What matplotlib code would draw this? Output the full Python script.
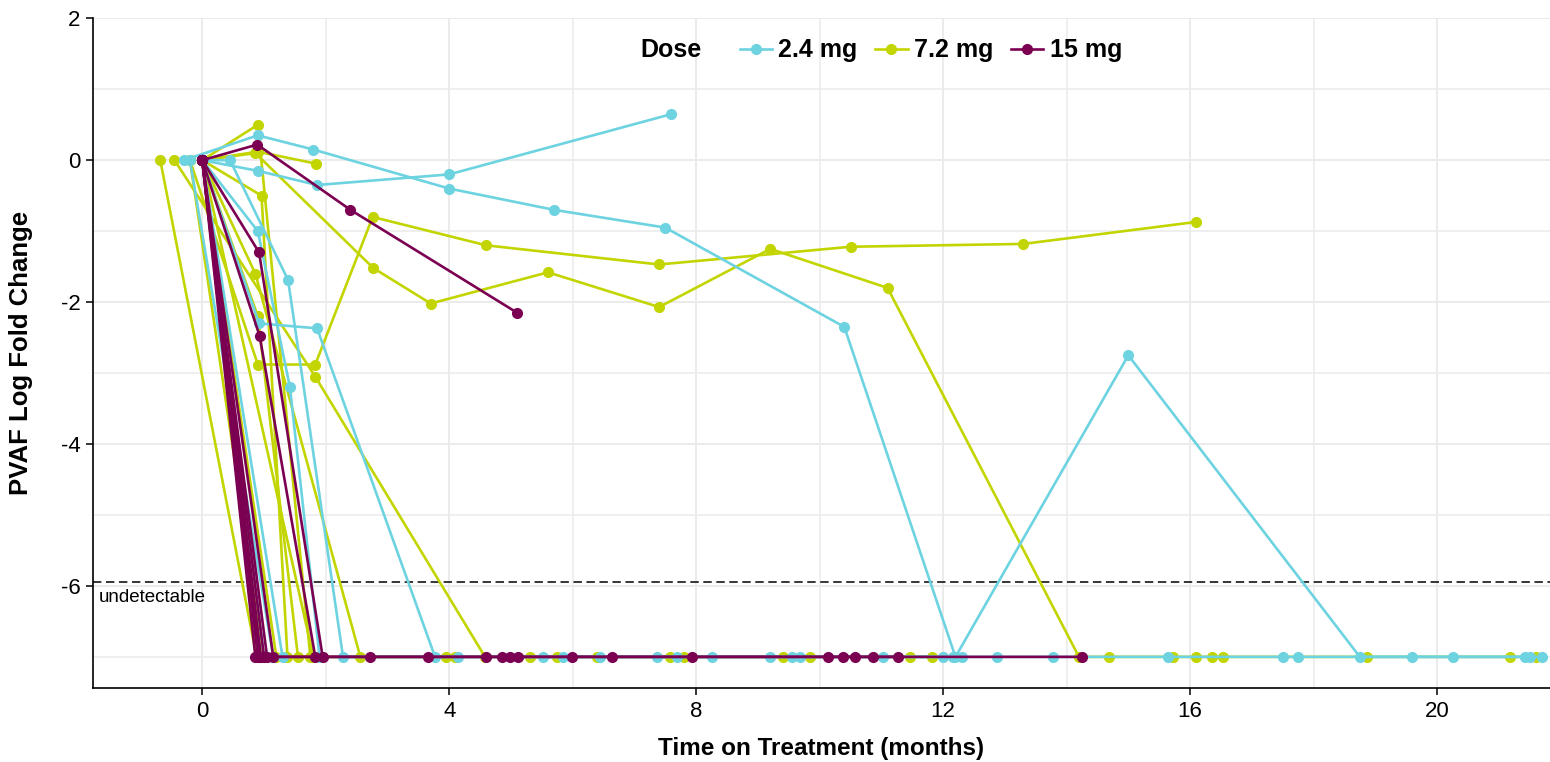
import matplotlib.pyplot as plt
from matplotlib.lines import Line2D

# dose groups
doses = ['2.4 mg', '7.2 mg', '15 mg']
colors = ['#6dd3e0', '#c3d500', '#7b0052']

# one list of times / values per patient, 2.4 mg
times_24 = [
    [-0.3, 0.9, 1.8, 4.0, 5.7, 7.5, 10.4, 12.2, 15.0, 18.75, 19.6, 20.26, 21.42],
    [0, 0.9, 1.86, 4.0, 7.6],
    [0, 0.92, 1.86, 3.77, 5.85, 7.69, 9.55, 11.03, 12.16],
    [0, 0.45, 1.39, 2.28, 4.15, 5.52, 7.37, 9.2, 9.68, 12.0, 12.3],
    [0, 0.9, 1.42, 1.9, 6.45, 8.26, 12.87, 13.78, 15.64, 17.5, 17.75, 21.5, 21.7],
    [-0.2, 1.15],
    [0, 1.3],
    [0, 1.0],
]
pvaf_24 = [
    [0, 0.35, 0.15, -0.4, -0.7, -0.95, -2.35, -7, -2.75, -7, -7, -7, -7],
    [0, -0.15, -0.35, -0.2, 0.65],
    [0, -2.3, -2.37, -7, -7, -7, -7, -7, -7],
    [0, 0, -1.69, -7, -7, -7, -7, -7, -7, -7, -7],
    [0, -1.0, -3.2, -7, -7, -7, -7, -7, -7, -7, -7, -7, -7],
    [0, -7],
    [0, -7],
    [0, -7],
]

# 7.2 mg
times_72 = [
    [-0.68, 0.88, 3.94, 5.74, 7.8, 9.85],
    [-0.45, 1.83, 4.58, 5.31, 6.4, 7.58, 9.41, 11.47, 11.82],
    [0, 0.9, 1.75],
    [0, 0.9, 1.85],
    [0, 0.86, 2.77, 3.7, 5.6, 7.4, 9.2, 11.1, 14.2, 14.69, 15.72, 16.1, 16.35, 16.53, 18.87, 21.18, 21.6],
    [0, 0.96, 1.38, 4.1],
    [0, 0.9, 1.55],
    [-0.2, 0.9, 1.83, 2.76, 4.6, 7.4, 10.5, 13.3, 16.1],
    [0, 0.86, 2.56],
    [0, 0.95],
    [0, 1.8],
    [-0.2, 1.0],
    [0, 1.2],
]
pvaf_72 = [
    [0, -7, -7, -7, -7, -7],
    [0, -3.05, -7, -7, -7, -7, -7, -7, -7],
    [0, 0.5, -7],
    [0, 0.12, -0.05],
    [0, 0.1, -1.52, -2.02, -1.58, -2.07, -1.25, -1.8, -7, -7, -7, -7, -7, -7, -7, -7, -7],
    [0, -0.5, -7, -7],
    [0, -2.2, -7],
    [0, -2.88, -2.88, -0.8, -1.2, -1.47, -1.22, -1.18, -0.87],
    [0, -1.6, -7],
    [0, -7],
    [0, -7],
    [0, -7],
    [0, -7],
]

# 15 mg
times_15 = [
    [0, 0.89, 2.4, 5.1],
    [0, 0.92, 1.95],
    [0, 0.93, 1.83],
    [0, 0.86, 2.72, 4.6, 4.99, 5.99, 7.93, 10.38, 10.87, 14.25],
    [0, 0.93, 3.66, 4.86, 5.12, 6.64, 10.14, 10.57, 11.27],
    [0, 1.15],
    [0, 0.9],
    [0, 1.05],
    [0, 0.95],
    [0, 1.0],
]
pvaf_15 = [
    [0, 0.22, -0.7, -2.15],
    [0, -1.3, -7],
    [0, -2.48, -7],
    [0, -7, -7, -7, -7, -7, -7, -7, -7, -7],
    [0, -7, -7, -7, -7, -7, -7, -7, -7],
    [0, -7],
    [0, -7],
    [0, -7],
    [0, -7],
    [0, -7],
]

undetectable = -5.95

plt.rcParams['font.family'] = ['Liberation Sans', 'DejaVu Sans']
plt.rcParams['axes.unicode_minus'] = False

fig = plt.figure(figsize=(15.5, 7.62), dpi=100)
ax = fig.add_axes([0.06, 0.097, 0.94, 0.879])

groups = [(times_72, pvaf_72, colors[1]),
          (times_24, pvaf_24, colors[0]),
          (times_15, pvaf_15, colors[2])]
for times, vals, col in groups:
    for t, v in zip(times, vals):
        ax.plot(t, v, color=col, lw=1.9, marker='o', ms=7, zorder=3)

ax.axhline(undetectable, color='black', lw=1.1, ls=(0, (5.5, 3)), zorder=2)
ax.text(-1.67, undetectable - 0.1, 'undetectable', fontsize=13.5, va='top', ha='left')

ax.set_xlim(-1.77, 21.83)
ax.set_ylim(-7.44, 2.0)
ax.set_xticks([0, 4, 8, 12, 16, 20])
ax.set_yticks([2, 0, -2, -4, -6])
ax.set_xticks([2, 6, 10, 14, 18], minor=True)
ax.set_yticks([1, -1, -3, -5, -7], minor=True)
ax.grid(True, which='major', color='#ebebeb', lw=1.4, zorder=0)
ax.grid(True, which='minor', color='#ebebeb', lw=1.1, zorder=0)
ax.set_axisbelow(True)
ax.tick_params(which='major', labelsize=16, length=5, width=1.1, pad=4)
ax.tick_params(which='minor', length=0)
for s in ['top', 'right']:
    ax.spines[s].set_visible(False)
for s in ['left', 'bottom']:
    ax.spines[s].set_linewidth(1.2)
ax.set_xlabel('Time on Treatment (months)', fontsize=17.5, fontweight='bold', labelpad=11)
ax.set_ylabel('PVAF Log Fold Change', fontsize=18.5, fontweight='bold', labelpad=20)

handles = [Line2D([], [], color=c, lw=1.9, marker='o', ms=7) for c in colors]
leg = ax.legend(handles, doses, loc='center', bbox_to_anchor=(0.575, 0.952), ncol=3,
                frameon=False, prop={'weight': 'bold', 'size': 18}, handlelength=1.3,
                handletextpad=0.25, columnspacing=0.7)
ax.text(0.397, 0.952, 'Dose', transform=ax.transAxes, fontsize=18, fontweight='bold',
        va='center', ha='center')

fig.savefig('out.png', dpi=100)
